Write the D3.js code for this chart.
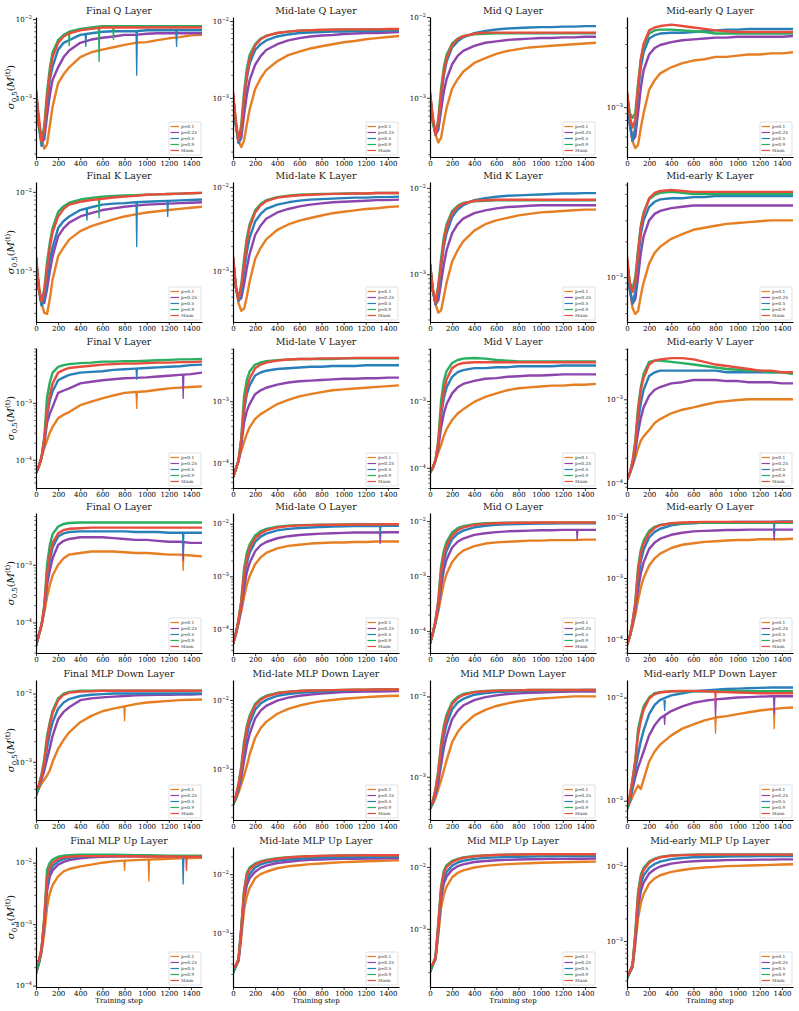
<!DOCTYPE html>
<html><head><meta charset="utf-8">
<script src="https://cdn.jsdelivr.net/npm/d3@7"></script>
<style>body{margin:0;background:#fff}svg text{font-family:"DejaVu Serif",serif}</style>
</head><body><svg id="c" width="799" height="1011"></svg>
<script>
const steps=[0,25,50,75,100,125,150,200,250,300,400,500,600,700,800,900,1000,1100,1200,1300,1400,1500];
const seriesLabels=["p=0.1","p=0.25","p=0.5","p=0.9","Muon"];
const seriesColors=["#e67e22","#8e44ad","#2980b9","#27ae60","#e74c3c"];
const depthNames=["Final","Mid-late","Mid","Mid-early"];
const moduleNames=["Q","K","V","O","MLP Down","MLP Up"];
const xTickValues=[0,200,400,600,800,1000,1200,1400];
const yLimits=[[1.8e-4,1.06e-2],[1.7e-4,1.13e-2],[1.85e-4,1.0e-2],[4.2e-4,4.8e-3],
[2.3e-4,1.33e-2],[2.5e-4,1.15e-2],[2.8e-4,1.17e-2],[4.2e-4,6.3e-3],
[3.2e-5,9.2e-3],[4e-5,7.2e-3],[5e-5,6.2e-3],[8.7e-5,4.1e-3],
[2.95e-5,7.9e-3],[3.5e-5,1.6e-2],[4e-5,1.4e-2],[5.9e-5,1.16e-2],
[1.4e-4,1.58e-2],[1.8e-4,1.95e-2],[2.9e-4,1.6e-2],[6.5e-4,1.48e-2],
[9.5e-5,1.8e-2],[1.2e-4,2.9e-2],[1.15e-4,2.1e-2],[2.45e-4,1.78e-2]];

const finalQ=[
[1.2e-3,6e-4,3e-4,2.3e-4,2.6e-4,4.5e-4,7.8e-4,1.55e-3,2.0e-3,2.45e-3,3.3e-3,3.8e-3,4.1e-3,4.4e-3,4.7e-3,5.0e-3,5.1e-3,5.4e-3,5.7e-3,5.9e-3,6.2e-3,6.3e-3],
[1.2e-3,5e-4,2.8e-4,3.0e-4,6e-4,1.1e-3,1.7e-3,2.45e-3,3.3e-3,4.0e-3,5.0e-3,5.5e-3,5.8e-3,6.0e-3,6.3e-3,6.3e-3,6.5e-3,6.6e-3,6.6e-3,6.6e-3,6.6e-3,6.6e-3],
[1.2e-3,4.5e-4,2.5e-4,3.5e-4,8.5e-4,1.7e-3,2.5e-3,4.1e-3,5.0e-3,5.4e-3,6.3e-3,6.6e-3,6.9e-3,7.0e-3,7.0e-3,7.0e-3,7.2e-3,7.2e-3,7.2e-3,7.2e-3,7.2e-3,7.2e-3],
[1.2e-3,4.5e-4,2.8e-4,4.5e-4,1.2e-3,2.4e-3,3.8e-3,5.4e-3,6.3e-3,6.9e-3,7.5e-3,7.8e-3,8.1e-3,8.1e-3,8.1e-3,8.1e-3,8.1e-3,8.1e-3,8.1e-3,8.1e-3,8.1e-3,8.1e-3],
[1.3e-3,5e-4,2.8e-4,4e-4,1.0e-3,2.0e-3,3.3e-3,5.0e-3,6.0e-3,6.6e-3,7.2e-3,7.5e-3,7.8e-3,7.8e-3,7.8e-3,7.8e-3,7.8e-3,7.8e-3,7.8e-3,7.8e-3,7.8e-3,7.8e-3]];
const midLateQ=[
[1.1e-3,5e-4,2.7e-4,2.3e-4,2.8e-4,4.5e-4,7e-4,1.3e-3,1.8e-3,2.3e-3,3.0e-3,3.6e-3,4.0e-3,4.4e-3,4.7e-3,5.0e-3,5.3e-3,5.5e-3,5.8e-3,6.0e-3,6.2e-3,6.4e-3],
[1.1e-3,4.5e-4,2.6e-4,3e-4,6e-4,1.1e-3,1.7e-3,2.7e-3,3.5e-3,4.2e-3,5.0e-3,5.6e-3,6.0e-3,6.3e-3,6.5e-3,6.6e-3,6.8e-3,6.9e-3,7.0e-3,7.0e-3,7.1e-3,7.2e-3],
[1.1e-3,4.5e-4,2.6e-4,3.5e-4,9e-4,1.8e-3,2.8e-3,4.2e-3,5.0e-3,5.6e-3,6.3e-3,6.7e-3,7.0e-3,7.1e-3,7.2e-3,7.3e-3,7.3e-3,7.4e-3,7.4e-3,7.4e-3,7.5e-3,7.5e-3],
[1.1e-3,4.5e-4,2.8e-4,4.5e-4,1.2e-3,2.4e-3,3.6e-3,5.0e-3,5.9e-3,6.4e-3,7.0e-3,7.3e-3,7.5e-3,7.6e-3,7.6e-3,7.7e-3,7.7e-3,7.7e-3,7.8e-3,7.8e-3,7.8e-3,7.8e-3],
[1.2e-3,5e-4,2.8e-4,4e-4,1.0e-3,2.0e-3,3.2e-3,4.8e-3,5.8e-3,6.4e-3,7.0e-3,7.3e-3,7.5e-3,7.6e-3,7.7e-3,7.7e-3,7.8e-3,7.8e-3,7.8e-3,7.8e-3,7.9e-3,7.9e-3]];
const midQ=[
[1.1e-3,6e-4,3.5e-4,2.8e-4,3.2e-4,5e-4,7.5e-4,1.3e-3,1.7e-3,2.1e-3,2.7e-3,3.1e-3,3.5e-3,3.8e-3,4.0e-3,4.2e-3,4.3e-3,4.4e-3,4.5e-3,4.6e-3,4.7e-3,4.8e-3],
[1.1e-3,5.5e-4,3.5e-4,4e-4,7e-4,1.2e-3,1.7e-3,2.6e-3,3.3e-3,3.8e-3,4.4e-3,4.8e-3,5.0e-3,5.2e-3,5.3e-3,5.4e-3,5.5e-3,5.5e-3,5.6e-3,5.6e-3,5.7e-3,5.7e-3],
[1.1e-3,5e-4,3.5e-4,4.5e-4,1.0e-3,1.9e-3,2.8e-3,4.2e-3,5.0e-3,5.6e-3,6.3e-3,6.7e-3,7.0e-3,7.2e-3,7.3e-3,7.4e-3,7.5e-3,7.5e-3,7.6e-3,7.6e-3,7.7e-3,7.7e-3],
[1.1e-3,5e-4,3.6e-4,5.5e-4,1.3e-3,2.4e-3,3.4e-3,4.7e-3,5.4e-3,5.8e-3,6.1e-3,6.2e-3,6.3e-3,6.3e-3,6.3e-3,6.3e-3,6.3e-3,6.3e-3,6.3e-3,6.3e-3,6.3e-3,6.3e-3],
[1.2e-3,5.5e-4,3.5e-4,5e-4,1.1e-3,2.1e-3,3.1e-3,4.5e-3,5.3e-3,5.8e-3,6.2e-3,6.4e-3,6.4e-3,6.4e-3,6.4e-3,6.4e-3,6.4e-3,6.4e-3,6.4e-3,6.4e-3,6.4e-3,6.4e-3]];
const midEarlyQ=[
[1.27e-3,8e-4,5.5e-4,4.9e-4,5.2e-4,7e-4,9e-4,1.35e-3,1.6e-3,1.8e-3,2.0e-3,2.15e-3,2.25e-3,2.3e-3,2.4e-3,2.4e-3,2.45e-3,2.5e-3,2.5e-3,2.55e-3,2.55e-3,2.6e-3],
[1.27e-3,7.5e-4,5.6e-4,6e-4,9e-4,1.4e-3,1.9e-3,2.5e-3,2.8e-3,2.95e-3,3.1e-3,3.2e-3,3.25e-3,3.3e-3,3.35e-3,3.35e-3,3.4e-3,3.4e-3,3.4e-3,3.4e-3,3.4e-3,3.45e-3],
[1.27e-3,7.5e-4,5.6e-4,7e-4,1.3e-3,2.0e-3,2.6e-3,3.3e-3,3.5e-3,3.6e-3,3.65e-3,3.65e-3,3.7e-3,3.75e-3,3.8e-3,3.85e-3,3.85e-3,3.9e-3,3.9e-3,3.9e-3,3.9e-3,3.9e-3],
[1.27e-3,9e-4,8.3e-4,9e-4,1.5e-3,2.3e-3,2.9e-3,3.6e-3,3.8e-3,3.85e-3,3.85e-3,3.8e-3,3.75e-3,3.7e-3,3.6e-3,3.6e-3,3.6e-3,3.6e-3,3.6e-3,3.6e-3,3.6e-3,3.6e-3],
[1.3e-3,8.5e-4,7e-4,8e-4,1.4e-3,2.3e-3,3.0e-3,3.8e-3,4.0e-3,4.1e-3,4.2e-3,4.1e-3,4.0e-3,3.9e-3,3.8e-3,3.75e-3,3.7e-3,3.7e-3,3.7e-3,3.7e-3,3.7e-3,3.7e-3]];
const finalK=[
[1.5e-3,7e-4,4e-4,3e-4,2.9e-4,4.5e-4,7.9e-4,1.55e-3,2.0e-3,2.5e-3,3.2e-3,3.7e-3,4.1e-3,4.5e-3,4.9e-3,5.2e-3,5.5e-3,5.7e-3,5.9e-3,6.1e-3,6.3e-3,6.5e-3],
[1.5e-3,6e-4,3.9e-4,4e-4,6e-4,1.0e-3,1.55e-3,2.75e-3,3.5e-3,4.1e-3,4.9e-3,5.4e-3,5.9e-3,6.2e-3,6.5e-3,6.7e-3,6.9e-3,7.0e-3,7.1e-3,7.2e-3,7.3e-3,7.4e-3],
[1.5e-3,6e-4,3.7e-4,4.5e-4,8e-4,1.4e-3,2.0e-3,3.5e-3,4.3e-3,4.9e-3,5.9e-3,6.4e-3,6.9e-3,7.1e-3,7.2e-3,7.4e-3,7.5e-3,7.6e-3,7.7e-3,7.8e-3,7.9e-3,8.0e-3],
[1.5e-3,6e-4,4.2e-4,6e-4,1.3e-3,2.3e-3,3.5e-3,5.6e-3,6.6e-3,7.3e-3,8.0e-3,8.4e-3,8.7e-3,8.9e-3,9.0e-3,9.1e-3,9.2e-3,9.3e-3,9.4e-3,9.5e-3,9.6e-3,9.7e-3],
[1.5e-3,6e-4,4.2e-4,5.5e-4,1.07e-3,2.0e-3,3.1e-3,4.9e-3,6.1e-3,6.9e-3,7.5e-3,7.9e-3,8.2e-3,8.5e-3,8.7e-3,8.9e-3,9.2e-3,9.3e-3,9.4e-3,9.5e-3,9.6e-3,9.7e-3]];
const midLateK=[
[1.45e-3,7e-4,4.2e-4,3.4e-4,3.6e-4,5e-4,7.5e-4,1.4e-3,1.9e-3,2.4e-3,3.1e-3,3.6e-3,4.0e-3,4.3e-3,4.6e-3,4.9e-3,5.1e-3,5.3e-3,5.5e-3,5.6e-3,5.8e-3,5.9e-3],
[1.45e-3,6.5e-4,4.5e-4,4.8e-4,7e-4,1.1e-3,1.6e-3,2.7e-3,3.5e-3,4.2e-3,5.0e-3,5.5e-3,5.9e-3,6.2e-3,6.4e-3,6.6e-3,6.7e-3,6.8e-3,6.9e-3,7.0e-3,7.0e-3,7.1e-3],
[1.45e-3,6.5e-4,4.5e-4,5.5e-4,1.0e-3,1.7e-3,2.5e-3,3.9e-3,4.8e-3,5.5e-3,6.2e-3,6.6e-3,6.9e-3,7.1e-3,7.2e-3,7.3e-3,7.4e-3,7.5e-3,7.5e-3,7.6e-3,7.6e-3,7.7e-3],
[1.45e-3,6.5e-4,4.8e-4,7e-4,1.4e-3,2.5e-3,3.6e-3,5.3e-3,6.3e-3,7.0e-3,7.6e-3,7.9e-3,8.1e-3,8.2e-3,8.3e-3,8.3e-3,8.4e-3,8.4e-3,8.4e-3,8.5e-3,8.5e-3,8.5e-3],
[1.5e-3,6.5e-4,4.7e-4,6.5e-4,1.2e-3,2.2e-3,3.3e-3,5.0e-3,6.1e-3,6.8e-3,7.5e-3,7.8e-3,8.0e-3,8.1e-3,8.2e-3,8.3e-3,8.3e-3,8.4e-3,8.4e-3,8.5e-3,8.5e-3,8.5e-3]];
const midK=[
[1.3e-3,7e-4,4.5e-4,3.6e-4,3.8e-4,5.5e-4,8e-4,1.4e-3,1.9e-3,2.4e-3,3.2e-3,3.8e-3,4.2e-3,4.5e-3,4.8e-3,5.0e-3,5.2e-3,5.3e-3,5.4e-3,5.5e-3,5.6e-3,5.6e-3],
[1.3e-3,6.5e-4,4.5e-4,5e-4,8e-4,1.3e-3,1.9e-3,3.0e-3,3.8e-3,4.4e-3,5.1e-3,5.5e-3,5.8e-3,6.0e-3,6.1e-3,6.2e-3,6.3e-3,6.3e-3,6.3e-3,6.3e-3,6.3e-3,6.3e-3],
[1.3e-3,6.5e-4,4.5e-4,6e-4,1.2e-3,2.1e-3,3.0e-3,4.6e-3,5.6e-3,6.3e-3,7.2e-3,7.6e-3,7.9e-3,8.1e-3,8.2e-3,8.3e-3,8.4e-3,8.5e-3,8.6e-3,8.6e-3,8.7e-3,8.7e-3],
[1.3e-3,6.5e-4,4.8e-4,7.5e-4,1.5e-3,2.7e-3,3.8e-3,5.4e-3,6.2e-3,6.7e-3,7.0e-3,7.1e-3,7.2e-3,7.2e-3,7.2e-3,7.2e-3,7.2e-3,7.2e-3,7.2e-3,7.2e-3,7.2e-3,7.2e-3],
[1.35e-3,6.5e-4,4.7e-4,7e-4,1.3e-3,2.4e-3,3.5e-3,5.1e-3,6.0e-3,6.6e-3,7.1e-3,7.2e-3,7.3e-3,7.3e-3,7.3e-3,7.3e-3,7.3e-3,7.3e-3,7.3e-3,7.3e-3,7.3e-3,7.3e-3]];
const midEarlyK=[
[1.4e-3,8e-4,5.5e-4,4.9e-4,5.2e-4,7e-4,9e-4,1.3e-3,1.6e-3,1.8e-3,2.1e-3,2.3e-3,2.5e-3,2.6e-3,2.7e-3,2.8e-3,2.85e-3,2.9e-3,2.95e-3,3.0e-3,3.0e-3,3.0e-3],
[1.4e-3,8e-4,6e-4,6.5e-4,1.0e-3,1.6e-3,2.2e-3,3.0e-3,3.4e-3,3.6e-3,3.8e-3,3.9e-3,4.0e-3,4.0e-3,4.0e-3,4.0e-3,4.0e-3,4.0e-3,4.0e-3,4.0e-3,4.0e-3,4.0e-3],
[1.4e-3,8e-4,6e-4,7.5e-4,1.4e-3,2.3e-3,3.0e-3,3.9e-3,4.3e-3,4.5e-3,4.6e-3,4.6e-3,4.7e-3,4.7e-3,4.8e-3,4.8e-3,4.8e-3,4.8e-3,4.8e-3,4.8e-3,4.8e-3,4.8e-3],
[1.4e-3,9e-4,8e-4,1.0e-3,1.7e-3,2.7e-3,3.5e-3,4.5e-3,4.9e-3,5.1e-3,5.2e-3,5.1e-3,5.0e-3,5.0e-3,5.0e-3,5.0e-3,5.0e-3,5.0e-3,5.0e-3,5.0e-3,5.0e-3,5.0e-3],
[1.5e-3,9e-4,7.5e-4,9e-4,1.6e-3,2.6e-3,3.4e-3,4.6e-3,5.1e-3,5.3e-3,5.4e-3,5.3e-3,5.2e-3,5.2e-3,5.2e-3,5.2e-3,5.2e-3,5.2e-3,5.2e-3,5.2e-3,5.2e-3,5.2e-3]];
const finalV=[
[5.9e-5,7.6e-5,1.1e-4,1.6e-4,2.2e-4,3e-4,3.8e-4,5.4e-4,6.2e-4,6.9e-4,9.1e-4,1.05e-3,1.2e-3,1.35e-3,1.5e-3,1.55e-3,1.6e-3,1.7e-3,1.8e-3,1.85e-3,1.9e-3,1.95e-3],
[5.9e-5,7.6e-5,1.1e-4,1.9e-4,4.5e-4,6.5e-4,8.5e-4,1.5e-3,1.65e-3,1.8e-3,2.2e-3,2.35e-3,2.5e-3,2.6e-3,2.7e-3,2.75e-3,2.8e-3,2.9e-3,3.0e-3,3.1e-3,3.2e-3,3.4e-3],
[5.9e-5,7.6e-5,1.1e-4,2.2e-4,6e-4,1.1e-3,1.6e-3,2.5e-3,2.8e-3,3.1e-3,3.4e-3,3.5e-3,3.6e-3,3.8e-3,3.9e-3,4.0e-3,4.1e-3,4.2e-3,4.3e-3,4.4e-3,4.6e-3,4.7e-3],
[5.9e-5,7.6e-5,1.1e-4,2.5e-4,1.26e-3,2.3e-3,3.4e-3,4.3e-3,4.6e-3,4.8e-3,5.0e-3,5.1e-3,5.3e-3,5.3e-3,5.4e-3,5.4e-3,5.5e-3,5.6e-3,5.7e-3,5.8e-3,5.8e-3,5.9e-3],
[5.9e-5,7.6e-5,1.1e-4,2.3e-4,6.6e-4,1.4e-3,2.2e-3,3.4e-3,3.8e-3,4.1e-3,4.3e-3,4.5e-3,4.7e-3,4.8e-3,4.9e-3,4.9e-3,5.0e-3,5.1e-3,5.1e-3,5.2e-3,5.2e-3,5.3e-3]];
const midLateV=[
[6e-5,8e-5,1.1e-4,1.6e-4,2.2e-4,3e-4,3.8e-4,5.2e-4,6.2e-4,7e-4,9e-4,1.05e-3,1.2e-3,1.3e-3,1.4e-3,1.5e-3,1.55e-3,1.6e-3,1.65e-3,1.7e-3,1.75e-3,1.8e-3],
[6e-5,8e-5,1.1e-4,2e-4,4.5e-4,7e-4,9e-4,1.3e-3,1.5e-3,1.65e-3,1.85e-3,2.0e-3,2.1e-3,2.15e-3,2.2e-3,2.25e-3,2.3e-3,2.3e-3,2.35e-3,2.35e-3,2.4e-3,2.4e-3],
[6e-5,8e-5,1.1e-4,2.3e-4,7e-4,1.3e-3,1.8e-3,2.6e-3,2.9e-3,3.1e-3,3.3e-3,3.4e-3,3.5e-3,3.6e-3,3.6e-3,3.7e-3,3.7e-3,3.7e-3,3.8e-3,3.8e-3,3.8e-3,3.8e-3],
[6e-5,8e-5,1.1e-4,2.6e-4,1.2e-3,2.2e-3,3.0e-3,3.9e-3,4.2e-3,4.4e-3,4.6e-3,4.7e-3,4.8e-3,4.8e-3,4.8e-3,4.8e-3,4.9e-3,4.9e-3,4.9e-3,4.9e-3,4.9e-3,4.9e-3],
[6e-5,8e-5,1.1e-4,2.4e-4,8e-4,1.6e-3,2.3e-3,3.4e-3,3.9e-3,4.2e-3,4.5e-3,4.7e-3,4.8e-3,4.8e-3,4.9e-3,4.9e-3,4.9e-3,5.0e-3,5.0e-3,5.0e-3,5.0e-3,5.0e-3]];
const midV=[
[8.5e-5,1.0e-4,1.3e-4,1.7e-4,2.2e-4,3e-4,3.8e-4,5.2e-4,6.5e-4,7.5e-4,9.7e-4,1.15e-3,1.3e-3,1.45e-3,1.55e-3,1.6e-3,1.65e-3,1.7e-3,1.7e-3,1.75e-3,1.75e-3,1.8e-3],
[8.5e-5,1.0e-4,1.3e-4,2e-4,4e-4,6.5e-4,9e-4,1.3e-3,1.6e-3,1.8e-3,2.0e-3,2.15e-3,2.2e-3,2.3e-3,2.35e-3,2.4e-3,2.4e-3,2.45e-3,2.5e-3,2.5e-3,2.5e-3,2.5e-3],
[8.5e-5,1.0e-4,1.3e-4,2.3e-4,6e-4,1.1e-3,1.6e-3,2.3e-3,2.7e-3,2.9e-3,3.1e-3,3.1e-3,3.2e-3,3.2e-3,3.3e-3,3.3e-3,3.3e-3,3.3e-3,3.4e-3,3.4e-3,3.4e-3,3.4e-3],
[8.5e-5,1.0e-4,1.3e-4,2.6e-4,1.0e-3,2.0e-3,2.8e-3,3.7e-3,4.1e-3,4.3e-3,4.4e-3,4.3e-3,4.1e-3,4.0e-3,3.9e-3,3.9e-3,3.9e-3,3.9e-3,3.9e-3,3.9e-3,3.9e-3,3.9e-3],
[8.5e-5,1.0e-4,1.3e-4,2.4e-4,7e-4,1.4e-3,2.1e-3,3.1e-3,3.5e-3,3.7e-3,3.8e-3,3.8e-3,3.8e-3,3.8e-3,3.8e-3,3.8e-3,3.8e-3,3.8e-3,3.8e-3,3.8e-3,3.8e-3,3.8e-3]];
const midEarlyV=[
[1.1e-4,1.3e-4,1.6e-4,2e-4,2.6e-4,3.2e-4,3.6e-4,4.3e-4,5.2e-4,5.8e-4,6.8e-4,7.5e-4,8e-4,8.6e-4,9.2e-4,9.5e-4,9.8e-4,1.0e-3,1.0e-3,1.0e-3,1.0e-3,1.0e-3],
[1.1e-4,1.3e-4,1.6e-4,2.4e-4,4e-4,6e-4,8e-4,1.1e-3,1.3e-3,1.4e-3,1.55e-3,1.6e-3,1.7e-3,1.7e-3,1.7e-3,1.65e-3,1.65e-3,1.6e-3,1.6e-3,1.6e-3,1.55e-3,1.55e-3],
[1.1e-4,1.3e-4,1.7e-4,2.7e-4,5.5e-4,9e-4,1.3e-3,1.9e-3,2.1e-3,2.2e-3,2.2e-3,2.2e-3,2.2e-3,2.2e-3,2.2e-3,2.1e-3,2.1e-3,2.1e-3,2.1e-3,2.1e-3,2.1e-3,2.1e-3],
[1.1e-4,1.3e-4,1.8e-4,3.2e-4,8e-4,1.4e-3,2.0e-3,2.8e-3,2.9e-3,2.9e-3,2.8e-3,2.7e-3,2.6e-3,2.5e-3,2.4e-3,2.3e-3,2.25e-3,2.2e-3,2.2e-3,2.1e-3,2.1e-3,2.0e-3],
[1.1e-4,1.3e-4,1.8e-4,3e-4,7e-4,1.3e-3,1.8e-3,2.6e-3,2.9e-3,3.0e-3,3.1e-3,3.1e-3,3.0e-3,2.8e-3,2.6e-3,2.5e-3,2.4e-3,2.3e-3,2.2e-3,2.2e-3,2.1e-3,2.1e-3]];
const finalO=[
[3.9e-5,6e-5,9e-5,1.5e-4,2.8e-4,4.5e-4,6.5e-4,1.0e-3,1.3e-3,1.5e-3,1.6e-3,1.7e-3,1.7e-3,1.7e-3,1.65e-3,1.6e-3,1.6e-3,1.55e-3,1.5e-3,1.5e-3,1.45e-3,1.4e-3],
[3.9e-5,6e-5,9e-5,1.7e-4,4.5e-4,8e-4,1.3e-3,2.2e-3,2.6e-3,2.8e-3,3.0e-3,3.0e-3,3.0e-3,2.9e-3,2.8e-3,2.7e-3,2.7e-3,2.6e-3,2.5e-3,2.5e-3,2.4e-3,2.4e-3],
[3.9e-5,6e-5,9e-5,1.8e-4,6e-4,1.2e-3,2.0e-3,3.1e-3,3.5e-3,3.7e-3,3.8e-3,3.8e-3,3.8e-3,3.8e-3,3.8e-3,3.7e-3,3.7e-3,3.7e-3,3.6e-3,3.6e-3,3.6e-3,3.6e-3],
[3.9e-5,6e-5,9e-5,2e-4,1.0e-3,2.2e-3,3.4e-3,4.6e-3,5.1e-3,5.3e-3,5.4e-3,5.4e-3,5.4e-3,5.4e-3,5.4e-3,5.4e-3,5.4e-3,5.4e-3,5.4e-3,5.4e-3,5.4e-3,5.4e-3],
[3.9e-5,6e-5,9e-5,1.9e-4,7e-4,1.5e-3,2.4e-3,3.5e-3,4.0e-3,4.2e-3,4.3e-3,4.4e-3,4.4e-3,4.4e-3,4.4e-3,4.4e-3,4.4e-3,4.4e-3,4.4e-3,4.4e-3,4.4e-3,4.4e-3]];
const midLateO=[
[5.2e-5,8e-5,1.3e-4,2.2e-4,4e-4,7e-4,1.0e-3,1.7e-3,2.3e-3,2.8e-3,3.4e-3,3.8e-3,4.0e-3,4.2e-3,4.3e-3,4.4e-3,4.4e-3,4.5e-3,4.5e-3,4.6e-3,4.6e-3,4.6e-3],
[5.2e-5,8e-5,1.3e-4,2.6e-4,6e-4,1.2e-3,1.8e-3,3.0e-3,3.9e-3,4.5e-3,5.3e-3,5.8e-3,6.1e-3,6.3e-3,6.5e-3,6.6e-3,6.7e-3,6.8e-3,6.8e-3,6.8e-3,6.9e-3,6.9e-3],
[5.2e-5,8e-5,1.4e-4,3e-4,9e-4,1.8e-3,2.8e-3,4.5e-3,5.7e-3,6.5e-3,7.5e-3,8.0e-3,8.3e-3,8.5e-3,8.7e-3,8.8e-3,8.9e-3,9.0e-3,9.0e-3,9.0e-3,9.1e-3,9.1e-3],
[5.2e-5,8e-5,1.5e-4,3.5e-4,1.4e-3,2.8e-3,4.0e-3,6.0e-3,7.2e-3,8.0e-3,8.8e-3,9.2e-3,9.4e-3,9.5e-3,9.6e-3,9.6e-3,9.7e-3,9.7e-3,9.7e-3,9.7e-3,9.8e-3,9.8e-3],
[5.2e-5,8e-5,1.5e-4,3.3e-4,1.1e-3,2.2e-3,3.4e-3,5.3e-3,6.6e-3,7.5e-3,8.5e-3,9.0e-3,9.3e-3,9.4e-3,9.5e-3,9.6e-3,9.6e-3,9.7e-3,9.7e-3,9.7e-3,9.8e-3,9.8e-3]];
const midO=[
[6e-5,9e-5,1.4e-4,2.3e-4,4.2e-4,7.5e-4,1.1e-3,1.8e-3,2.4e-3,2.9e-3,3.5e-3,3.9e-3,4.1e-3,4.2e-3,4.3e-3,4.4e-3,4.4e-3,4.5e-3,4.5e-3,4.5e-3,4.6e-3,4.6e-3],
[6e-5,9e-5,1.4e-4,2.7e-4,6.5e-4,1.3e-3,2.0e-3,3.3e-3,4.2e-3,4.8e-3,5.6e-3,6.0e-3,6.3e-3,6.5e-3,6.6e-3,6.7e-3,6.8e-3,6.8e-3,6.9e-3,6.9e-3,6.9e-3,6.9e-3],
[6e-5,9e-5,1.5e-4,3.1e-4,9.5e-4,1.9e-3,2.9e-3,4.7e-3,5.9e-3,6.7e-3,7.7e-3,8.2e-3,8.5e-3,8.7e-3,8.8e-3,8.9e-3,9.0e-3,9.0e-3,9.1e-3,9.1e-3,9.1e-3,9.1e-3],
[6e-5,9e-5,1.6e-4,3.6e-4,1.5e-3,2.9e-3,4.2e-3,6.2e-3,7.4e-3,8.1e-3,8.8e-3,9.1e-3,9.2e-3,9.3e-3,9.3e-3,9.3e-3,9.3e-3,9.3e-3,9.3e-3,9.3e-3,9.3e-3,9.3e-3],
[6e-5,9e-5,1.6e-4,3.4e-4,1.2e-3,2.4e-3,3.6e-3,5.5e-3,6.8e-3,7.6e-3,8.5e-3,8.9e-3,9.1e-3,9.2e-3,9.3e-3,9.3e-3,9.4e-3,9.4e-3,9.4e-3,9.4e-3,9.4e-3,9.4e-3]];
const midEarlyO=[
[8e-5,1.1e-4,1.6e-4,2.5e-4,4.3e-4,7e-4,1.0e-3,1.6e-3,2.1e-3,2.5e-3,3.1e-3,3.5e-3,3.7e-3,3.9e-3,4.0e-3,4.1e-3,4.2e-3,4.2e-3,4.3e-3,4.3e-3,4.3e-3,4.4e-3],
[8e-5,1.1e-4,1.7e-4,3e-4,6.5e-4,1.2e-3,1.8e-3,3.0e-3,3.8e-3,4.4e-3,5.1e-3,5.5e-3,5.8e-3,5.9e-3,6.0e-3,6.1e-3,6.1e-3,6.2e-3,6.2e-3,6.2e-3,6.2e-3,6.2e-3],
[8e-5,1.1e-4,1.8e-4,3.4e-4,9.5e-4,1.9e-3,2.9e-3,4.6e-3,5.7e-3,6.4e-3,7.3e-3,7.7e-3,7.9e-3,8.1e-3,8.2e-3,8.2e-3,8.3e-3,8.3e-3,8.3e-3,8.3e-3,8.4e-3,8.4e-3],
[8e-5,1.1e-4,1.9e-4,4e-4,1.5e-3,2.9e-3,4.1e-3,5.9e-3,6.9e-3,7.4e-3,7.8e-3,7.9e-3,8.0e-3,8.0e-3,8.0e-3,8.0e-3,8.0e-3,8.0e-3,8.0e-3,8.0e-3,8.0e-3,8.0e-3],
[8e-5,1.1e-4,1.9e-4,3.8e-4,1.3e-3,2.5e-3,3.6e-3,5.4e-3,6.6e-3,7.3e-3,7.9e-3,8.1e-3,8.2e-3,8.3e-3,8.3e-3,8.3e-3,8.3e-3,8.3e-3,8.3e-3,8.3e-3,8.3e-3,8.3e-3]];
const finalDown=[
[3.2e-4,4e-4,4.8e-4,5.5e-4,6.3e-4,7.5e-4,1.0e-3,1.55e-3,2.1e-3,2.7e-3,3.8e-3,4.7e-3,5.5e-3,6.0e-3,6.5e-3,7.0e-3,7.4e-3,7.6e-3,7.8e-3,8.0e-3,8.1e-3,8.2e-3],
[3.2e-4,4.2e-4,5.5e-4,7.5e-4,1.1e-3,1.6e-3,2.4e-3,4.2e-3,5.4e-3,6.3e-3,8.0e-3,8.5e-3,8.8e-3,9.0e-3,9.2e-3,9.4e-3,9.5e-3,9.6e-3,9.6e-3,9.7e-3,9.7e-3,9.8e-3],
[3.2e-4,4.3e-4,6e-4,9e-4,1.6e-3,2.6e-3,3.8e-3,6.0e-3,7.4e-3,8.3e-3,9.2e-3,9.6e-3,9.8e-3,1.0e-2,1.0e-2,1.0e-2,1.0e-2,1.0e-2,1.0e-2,1.0e-2,1.0e-2,1.0e-2],
[3.2e-4,4.5e-4,6.5e-4,1.1e-3,2.4e-3,3.8e-3,5.6e-3,8.5e-3,1.0e-2,1.06e-2,1.1e-2,1.1e-2,1.1e-2,1.1e-2,1.1e-2,1.1e-2,1.1e-2,1.1e-2,1.1e-2,1.1e-2,1.1e-2,1.1e-2],
[3.8e-4,4.5e-4,6.3e-4,1.0e-3,2.1e-3,3.5e-3,5.2e-3,8.0e-3,9.6e-3,1.03e-2,1.07e-2,1.08e-2,1.1e-2,1.1e-2,1.1e-2,1.1e-2,1.1e-2,1.1e-2,1.1e-2,1.1e-2,1.1e-2,1.1e-2]];
const midLateDown=[
[3e-4,3.6e-4,4.5e-4,6e-4,8e-4,1.1e-3,1.6e-3,2.8e-3,3.9e-3,4.8e-3,6.3e-3,7.4e-3,8.3e-3,9.0e-3,9.6e-3,1.0e-2,1.04e-2,1.07e-2,1.1e-2,1.12e-2,1.14e-2,1.15e-2],
[3e-4,3.7e-4,5e-4,7.5e-4,1.3e-3,2.2e-3,3.2e-3,5.4e-3,7.0e-3,8.2e-3,9.8e-3,1.08e-2,1.15e-2,1.2e-2,1.24e-2,1.27e-2,1.3e-2,1.31e-2,1.32e-2,1.33e-2,1.34e-2,1.35e-2],
[3e-4,3.8e-4,5.5e-4,9e-4,1.8e-3,3.1e-3,4.5e-3,7.2e-3,8.9e-3,1.0e-2,1.15e-2,1.22e-2,1.27e-2,1.3e-2,1.33e-2,1.35e-2,1.37e-2,1.38e-2,1.39e-2,1.4e-2,1.4e-2,1.41e-2],
[3e-4,3.9e-4,6e-4,1.1e-3,2.5e-3,4.2e-3,5.9e-3,8.8e-3,1.05e-2,1.15e-2,1.27e-2,1.32e-2,1.35e-2,1.37e-2,1.38e-2,1.39e-2,1.4e-2,1.41e-2,1.41e-2,1.42e-2,1.42e-2,1.42e-2],
[3.3e-4,4e-4,6e-4,1.0e-3,2.2e-3,3.8e-3,5.4e-3,8.3e-3,1.0e-2,1.12e-2,1.25e-2,1.31e-2,1.35e-2,1.37e-2,1.38e-2,1.39e-2,1.4e-2,1.41e-2,1.41e-2,1.42e-2,1.42e-2,1.42e-2]];
const midDown=[
[4e-4,4.6e-4,5.5e-4,7e-4,9e-4,1.2e-3,1.6e-3,2.7e-3,3.6e-3,4.4e-3,5.8e-3,6.8e-3,7.6e-3,8.2e-3,8.7e-3,9.1e-3,9.4e-3,9.6e-3,9.8e-3,1.0e-2,1.0e-2,1.0e-2],
[4e-4,4.7e-4,6e-4,8.5e-4,1.4e-3,2.3e-3,3.2e-3,5.2e-3,6.6e-3,7.7e-3,9.0e-3,9.8e-3,1.03e-2,1.07e-2,1.09e-2,1.11e-2,1.12e-2,1.13e-2,1.14e-2,1.15e-2,1.15e-2,1.15e-2],
[4e-4,4.8e-4,6.5e-4,1.0e-3,1.9e-3,3.2e-3,4.5e-3,6.9e-3,8.4e-3,9.3e-3,1.05e-2,1.1e-2,1.13e-2,1.15e-2,1.16e-2,1.17e-2,1.18e-2,1.18e-2,1.19e-2,1.19e-2,1.2e-2,1.2e-2],
[4e-4,4.9e-4,7e-4,1.2e-3,2.6e-3,4.3e-3,5.9e-3,8.5e-3,9.9e-3,1.07e-2,1.14e-2,1.17e-2,1.18e-2,1.19e-2,1.19e-2,1.2e-2,1.2e-2,1.2e-2,1.2e-2,1.2e-2,1.2e-2,1.2e-2],
[4.3e-4,5e-4,7e-4,1.1e-3,2.3e-3,3.9e-3,5.4e-3,8.0e-3,9.5e-3,1.04e-2,1.13e-2,1.16e-2,1.18e-2,1.19e-2,1.19e-2,1.2e-2,1.2e-2,1.2e-2,1.2e-2,1.2e-2,1.2e-2,1.2e-2]];
const midEarlyDown=[
[8.3e-4,9.5e-4,1.1e-3,1.25e-3,1.4e-3,1.3e-3,1.6e-3,2.4e-3,3.0e-3,3.5e-3,4.3e-3,5.0e-3,5.5e-3,6.0e-3,6.4e-3,6.6e-3,6.9e-3,7.2e-3,7.5e-3,7.7e-3,7.9e-3,8.0e-3],
[8.3e-4,1.0e-3,1.3e-3,1.7e-3,2.1e-3,2.5e-3,3.0e-3,4.3e-3,5.4e-3,6.3e-3,7.4e-3,8.2e-3,8.9e-3,9.3e-3,9.6e-3,9.8e-3,1.0e-2,1.01e-2,1.02e-2,1.03e-2,1.03e-2,1.03e-2],
[8.3e-4,1.0e-3,1.4e-3,2.0e-3,2.8e-3,3.8e-3,4.8e-3,6.9e-3,8.5e-3,9.5e-3,1.05e-2,1.1e-2,1.15e-2,1.17e-2,1.19e-2,1.21e-2,1.22e-2,1.23e-2,1.24e-2,1.25e-2,1.25e-2,1.25e-2],
[8.3e-4,1.1e-3,1.6e-3,2.5e-3,4.9e-3,6.5e-3,8.2e-3,1.0e-2,1.1e-2,1.13e-2,1.15e-2,1.15e-2,1.15e-2,1.15e-2,1.15e-2,1.15e-2,1.15e-2,1.15e-2,1.15e-2,1.15e-2,1.15e-2,1.15e-2],
[9e-4,1.1e-3,1.6e-3,2.4e-3,4.3e-3,6.0e-3,7.6e-3,9.8e-3,1.08e-2,1.12e-2,1.15e-2,1.16e-2,1.16e-2,1.15e-2,1.14e-2,1.13e-2,1.12e-2,1.11e-2,1.1e-2,1.1e-2,1.1e-2,1.1e-2]];
const finalUp=[
[1.6e-4,2.2e-4,3.5e-4,7e-4,1.9e-3,3.2e-3,4.3e-3,6.0e-3,7.2e-3,7.9e-3,8.7e-3,9.3e-3,1.0e-2,1.05e-2,1.08e-2,1.1e-2,1.12e-2,1.14e-2,1.16e-2,1.18e-2,1.19e-2,1.2e-2],
[1.6e-4,2.3e-4,3.7e-4,1.0e-3,3.5e-3,6.0e-3,7.5e-3,9.3e-3,1.03e-2,1.1e-2,1.18e-2,1.22e-2,1.25e-2,1.26e-2,1.27e-2,1.27e-2,1.27e-2,1.27e-2,1.27e-2,1.27e-2,1.27e-2,1.27e-2],
[1.6e-4,2.3e-4,3.8e-4,1.1e-3,4.5e-3,7.2e-3,8.8e-3,1.05e-2,1.15e-2,1.2e-2,1.25e-2,1.27e-2,1.28e-2,1.28e-2,1.28e-2,1.28e-2,1.28e-2,1.28e-2,1.28e-2,1.28e-2,1.28e-2,1.28e-2],
[1.6e-4,2.4e-4,4e-4,1.3e-3,7.7e-3,1.0e-2,1.12e-2,1.25e-2,1.3e-2,1.33e-2,1.35e-2,1.35e-2,1.35e-2,1.35e-2,1.34e-2,1.33e-2,1.32e-2,1.31e-2,1.3e-2,1.3e-2,1.3e-2,1.3e-2],
[2.5e-4,2.5e-4,4e-4,1.2e-3,5.5e-3,8.5e-3,1.0e-2,1.15e-2,1.22e-2,1.25e-2,1.28e-2,1.28e-2,1.28e-2,1.28e-2,1.27e-2,1.27e-2,1.26e-2,1.26e-2,1.26e-2,1.25e-2,1.25e-2,1.25e-2]];
const midLateUp=[
[2.1e-4,2.7e-4,3.3e-4,8.5e-4,2.5e-3,4.2e-3,5.8e-3,8.5e-3,1.0e-2,1.1e-2,1.26e-2,1.36e-2,1.42e-2,1.48e-2,1.52e-2,1.56e-2,1.6e-2,1.63e-2,1.66e-2,1.68e-2,1.7e-2,1.72e-2],
[2.1e-4,2.7e-4,3.4e-4,1.0e-3,3.8e-3,6.5e-3,8.5e-3,1.1e-2,1.28e-2,1.4e-2,1.55e-2,1.63e-2,1.7e-2,1.75e-2,1.78e-2,1.8e-2,1.82e-2,1.83e-2,1.84e-2,1.85e-2,1.86e-2,1.87e-2],
[2.1e-4,2.7e-4,3.5e-4,1.1e-3,4.5e-3,8.0e-3,1.0e-2,1.3e-2,1.47e-2,1.57e-2,1.7e-2,1.78e-2,1.83e-2,1.87e-2,1.9e-2,1.92e-2,1.94e-2,1.95e-2,1.96e-2,1.97e-2,1.98e-2,1.98e-2],
[2.1e-4,2.8e-4,3.6e-4,1.3e-3,5.4e-3,1.05e-2,1.3e-2,1.52e-2,1.65e-2,1.75e-2,1.87e-2,1.95e-2,1.99e-2,2.02e-2,2.05e-2,2.07e-2,2.08e-2,2.09e-2,2.1e-2,2.1e-2,2.1e-2,2.1e-2],
[2.5e-4,2.8e-4,3.6e-4,1.2e-3,5.0e-3,9.5e-3,1.2e-2,1.45e-2,1.6e-2,1.7e-2,1.83e-2,1.92e-2,1.98e-2,2.02e-2,2.05e-2,2.07e-2,2.08e-2,2.09e-2,2.1e-2,2.1e-2,2.1e-2,2.1e-2]];
const midUp=[
[2e-4,2.6e-4,3.2e-4,8e-4,2.2e-3,3.6e-3,4.8e-3,6.8e-3,8.0e-3,8.8e-3,9.8e-3,1.04e-2,1.08e-2,1.11e-2,1.13e-2,1.15e-2,1.17e-2,1.18e-2,1.19e-2,1.2e-2,1.21e-2,1.22e-2],
[2e-4,2.6e-4,3.3e-4,9.5e-4,3.2e-3,5.4e-3,7.0e-3,9.0e-3,1.03e-2,1.1e-2,1.2e-2,1.25e-2,1.28e-2,1.3e-2,1.32e-2,1.33e-2,1.34e-2,1.35e-2,1.35e-2,1.36e-2,1.36e-2,1.37e-2],
[2e-4,2.6e-4,3.4e-4,1.05e-3,3.9e-3,6.6e-3,8.3e-3,1.05e-2,1.18e-2,1.26e-2,1.35e-2,1.4e-2,1.43e-2,1.45e-2,1.46e-2,1.47e-2,1.48e-2,1.49e-2,1.5e-2,1.5e-2,1.5e-2,1.5e-2],
[2e-4,2.7e-4,3.5e-4,1.25e-3,4.8e-3,8.7e-3,1.07e-2,1.25e-2,1.35e-2,1.42e-2,1.5e-2,1.54e-2,1.56e-2,1.58e-2,1.59e-2,1.6e-2,1.6e-2,1.6e-2,1.6e-2,1.6e-2,1.6e-2,1.6e-2],
[2.4e-4,2.7e-4,3.5e-4,1.15e-3,4.4e-3,8.0e-3,1.0e-2,1.2e-2,1.32e-2,1.4e-2,1.48e-2,1.53e-2,1.56e-2,1.58e-2,1.59e-2,1.6e-2,1.6e-2,1.6e-2,1.6e-2,1.6e-2,1.6e-2,1.6e-2]];
const midEarlyUp=[
[3.2e-4,3.8e-4,4.5e-4,9e-4,2.0e-3,3.2e-3,4.2e-3,5.8e-3,6.8e-3,7.5e-3,8.3e-3,8.8e-3,9.2e-3,9.5e-3,9.7e-3,9.9e-3,1.0e-2,1.01e-2,1.02e-2,1.03e-2,1.04e-2,1.05e-2],
[3.2e-4,3.8e-4,4.6e-4,1.0e-3,2.8e-3,4.6e-3,6.0e-3,7.9e-3,9.0e-3,9.8e-3,1.07e-2,1.12e-2,1.15e-2,1.17e-2,1.18e-2,1.19e-2,1.2e-2,1.2e-2,1.21e-2,1.21e-2,1.22e-2,1.22e-2],
[3.2e-4,3.9e-4,4.7e-4,1.1e-3,3.5e-3,5.8e-3,7.4e-3,9.4e-3,1.06e-2,1.14e-2,1.23e-2,1.27e-2,1.3e-2,1.31e-2,1.32e-2,1.33e-2,1.34e-2,1.34e-2,1.35e-2,1.35e-2,1.35e-2,1.35e-2],
[3.2e-4,3.9e-4,4.8e-4,1.3e-3,4.5e-3,7.6e-3,9.4e-3,1.14e-2,1.25e-2,1.31e-2,1.37e-2,1.4e-2,1.41e-2,1.42e-2,1.42e-2,1.42e-2,1.42e-2,1.42e-2,1.42e-2,1.42e-2,1.42e-2,1.42e-2],
[3.5e-4,3.9e-4,4.8e-4,1.2e-3,4.0e-3,7.0e-3,8.8e-3,1.1e-2,1.22e-2,1.3e-2,1.36e-2,1.39e-2,1.4e-2,1.41e-2,1.41e-2,1.41e-2,1.41e-2,1.41e-2,1.41e-2,1.41e-2,1.41e-2,1.41e-2]];

// isolated short dips: [panel, series, step, level around it, bottom of dip]
const spikes=[
[0,2,910,7.0e-3,1.95e-3],[0,3,570,8.1e-3,2.9e-3],[0,2,1270,7.2e-3,4.5e-3],[0,3,300,6.9e-3,4.6e-3],[0,2,450,6.4e-3,4.5e-3],[0,3,700,8.1e-3,5.5e-3],
[4,2,910,7.4e-3,2.05e-3],[4,3,570,8.7e-3,4.7e-3],[4,2,460,6.2e-3,4.4e-3],[4,2,1190,7.7e-3,4.9e-3],
[8,1,1330,3.1e-3,1.2e-3],[8,0,910,1.55e-3,8e-4],[8,2,910,4.0e-3,2.6e-3],
[12,0,1330,1.5e-3,8e-4],[12,1,1330,2.5e-3,1.2e-3],[12,2,1330,3.6e-3,1.5e-3],
[13,1,1330,6.8e-3,4.2e-3],[13,2,1330,9.0e-3,6.5e-3],[14,1,1330,6.9e-3,4.6e-3],[15,1,1330,6.2e-3,4.2e-3],[15,2,1330,8.3e-3,5.8e-3],
[16,0,800,6.5e-3,4.0e-3],
[19,0,800,6.4e-3,4.5e-3],[19,0,1330,7.7e-3,5.0e-3],[19,1,800,9.6e-3,6.5e-3],[19,1,1330,1.03e-2,7.0e-3],[19,1,340,6.8e-3,5.5e-3],[19,2,340,9.5e-3,7.5e-3],[19,4,800,1.14e-2,9.0e-3],
[20,2,1330,1.28e-2,4.5e-3],[20,0,1020,1.12e-2,5.0e-3],[20,0,800,1.08e-2,7.5e-3],[20,4,1360,1.25e-2,7.5e-3]];

const panels=[finalQ,midLateQ,midQ,midEarlyQ,finalK,midLateK,midK,midEarlyK,
finalV,midLateV,midV,midEarlyV,finalO,midLateO,midO,midEarlyO,
finalDown,midLateDown,midDown,midEarlyDown,finalUp,midLateUp,midUp,midEarlyUp];

// layout
const colX=[36,233,430,627], plotW=166;
const rowY=[17,182,348,513,680,847], plotH=140;

const svg=d3.select("#c");
const defs=svg.append("defs");

function supLabel(sel,d){
  const e=Math.round(Math.log10(d));
  sel.text(null);
  sel.append("tspan").text("10");
  sel.append("tspan").attr("dy",-3).attr("font-size",5).text(e<0?"\u2212"+(-e):String(e));
}

panels.forEach((data,k)=>{
  const r=Math.floor(k/4), c=k%4;
  const x0=colX[c], y0=rowY[r];
  const x=d3.scaleLinear().domain([0,1500]).range([x0,x0+plotW]);
  const y=d3.scaleLog().domain(yLimits[k]).range([y0+plotH,y0]);
  const g=svg.append("g");
  defs.append("clipPath").attr("id","cp"+k).append("rect")
    .attr("x",x0).attr("y",y0).attr("width",plotW).attr("height",plotH);
  const line=d3.line().x(d=>x(d[0])).y(d=>y(d[1]));
  const lg=g.append("g").attr("clip-path",`url(#cp${k})`);
  data.forEach((vals,si)=>{
    const pts=steps.map((s,i)=>[s,vals[i]]);
    lg.append("path").attr("d",line(pts)).attr("fill","none")
      .attr("stroke",seriesColors[si]).attr("stroke-width",2.4).attr("stroke-linejoin","round");
    spikes.filter(s=>s[0]===k&&s[1]===si).forEach(s=>{
      lg.append("path").attr("d",line([[s[2]-6,s[3]],[s[2],s[4]],[s[2]+6,s[3]]])).attr("fill","none")
        .attr("stroke",seriesColors[si]).attr("stroke-width",1.3).attr("stroke-linejoin","round");
    });
  });
  // x axis
  const xa=g.append("g").attr("transform",`translate(0,${y0+plotH})`)
    .call(d3.axisBottom(x).tickValues(xTickValues).tickSize(3).tickSizeOuter(0).tickFormat(d3.format("d")));
  xa.select(".domain").attr("stroke","#000").attr("stroke-width",1.2);
  xa.selectAll(".tick line").attr("stroke","#000").attr("stroke-width",0.8);
  xa.selectAll(".tick text").attr("font-size",7).attr("fill","#000").attr("dy","0.75em").attr("y",4);
  // y axis
  const [lo,hi]=yLimits[k];
  const majors=[], minors=[];
  for(let e=Math.floor(Math.log10(lo));e<=Math.ceil(Math.log10(hi));e++){
    for(let m=1;m<=9;m++){const v=m*Math.pow(10,e); if(v>=lo&&v<=hi){(m===1?majors:minors).push(v);}}
  }
  const ya=g.append("g").attr("transform",`translate(${x0},0)`)
    .call(d3.axisLeft(y).tickValues(majors).tickSize(3).tickSizeOuter(0).tickFormat(()=>""));
  ya.select(".domain").attr("stroke","#000").attr("stroke-width",1.2);
  ya.selectAll(".tick line").attr("stroke","#000").attr("stroke-width",0.8);
  ya.selectAll(".tick text").attr("font-size",7).attr("fill","#000").attr("x",-4).each(function(d){supLabel(d3.select(this),d);});
  const ym=g.append("g").attr("transform",`translate(${x0},0)`)
    .call(d3.axisLeft(y).tickValues(minors).tickSize(1.8).tickFormat(()=>""));
  ym.select(".domain").remove();
  ym.selectAll(".tick line").attr("stroke","#000").attr("stroke-width",0.6);
  // title
  g.append("text").attr("x",x0+plotW/2).attr("y",y0-3).attr("text-anchor","middle")
    .attr("font-size",9.5).attr("fill","#222").text(`${depthNames[c]} ${moduleNames[r]} Layer`);
  // legend
  const lx=x0+plotW-33, ly=y0+plotH-35;
  const leg=g.append("g");
  leg.append("rect").attr("x",lx).attr("y",ly).attr("width",32).attr("height",33)
    .attr("fill","#fff").attr("fill-opacity",0.85).attr("stroke","#ccc").attr("stroke-width",0.6).attr("rx",1);
  seriesLabels.forEach((lab,i)=>{
    const yy=ly+4.5+i*6;
    leg.append("line").attr("x1",lx+1.5).attr("x2",lx+10).attr("y1",yy).attr("y2",yy)
      .attr("stroke",seriesColors[i]).attr("stroke-width",1.2);
    leg.append("text").attr("x",lx+12).attr("y",yy+1.5).attr("font-size",4.3).attr("fill","#333").text(lab);
  });
  if(c===0){
    const t=g.append("text").attr("transform",`translate(${14},${y0+plotH/2}) rotate(-90)`)
      .attr("text-anchor","middle").attr("font-size",10).attr("fill","#000");
    t.append("tspan").attr("font-style","italic").text("σ");
    t.append("tspan").attr("font-size",7).attr("dy",2.5).text("0.5");
    t.append("tspan").attr("dy",-2.5).text("(");
    t.append("tspan").attr("font-style","italic").text("M");
    t.append("tspan").attr("font-size",7).attr("dy",-4).text("(t)");
    t.append("tspan").attr("dy",4).text(")");
  }
  if(r===5){
    g.append("text").attr("x",x0+plotW/2).attr("y",y0+plotH+16).attr("text-anchor","middle")
      .attr("font-size",7).attr("fill","#000").text("Training step");
  }
});
</script></body></html>
